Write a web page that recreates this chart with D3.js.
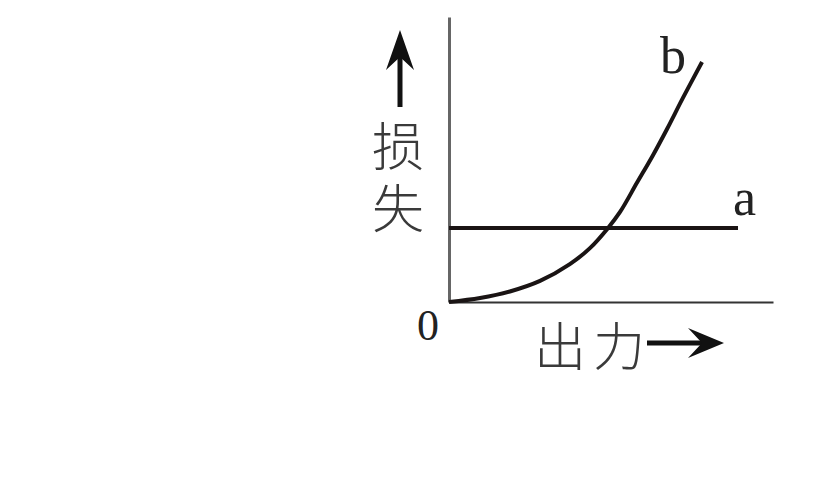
<!DOCTYPE html>
<html>
<head>
<meta charset="utf-8">
<script src="https://cdn.jsdelivr.net/npm/d3@7"></script>
<style>
  html, body { margin: 0; padding: 0; background: #fff; }
  svg { display: block; }
  .cjk { font-family: "Noto Sans CJK SC", sans-serif; font-weight: 300; fill: #3a3a3a; }
  .latin { font-family: "Liberation Serif", "DejaVu Serif", serif; fill: #222; }
</style>
</head>
<body>
<div id="chart"></div>
<script>
// curve b (losses that grow with output)
var bX = [0, 0.96, 1.88, 2.81, 3.73, 4.35, 4.91, 5.28, 5.80, 6.30, 6.73, 7.22, 7.81];
var bY = [0, 0.14, 0.37, 0.74, 1.33, 1.89, 2.60, 3.16, 4.18, 5.16, 6.07, 7.16, 8.42];
// line a (constant losses)
var aX = [0, 8.92];
var aY = [2.6, 2.6];
var seriesNames = ['a', 'b'];
var tickLabels = ['0'];
var yTitle = '损失';
var xTitle = '出力';

var width = 832,
    height = 495,
    margin = { left: 449, right: 59, top: 17, bottom: 193 }
;

var svg = d3.select('#chart')
    .append('svg')
    .attr('width', width)
    .attr('height', height)
;

var x = d3.scaleLinear().domain([0, 10]).range([margin.left, width - margin.right]);
var y = d3.scaleLinear().domain([0, 10]).range([height - margin.bottom, margin.top]);

// axes: bare lines, no ticks
var xAxis = svg.append('g')
    .attr('transform', 'translate(0,' + y(0) + ')')
    .call(d3.axisBottom(x).tickValues([]).tickSizeOuter(0));
xAxis.select('.domain').attr('stroke', '#333').attr('stroke-width', 2.2);

var yAxis = svg.append('g')
    .attr('transform', 'translate(' + x(0) + ',0)')
    .call(d3.axisLeft(y).tickValues([]).tickSizeOuter(0));
yAxis.select('.domain').attr('stroke', '#666').attr('stroke-width', 3);

var line = d3.line()
    .x(function(d) { return x(d[0]); })
    .y(function(d) { return y(d[1]); })
    .curve(d3.curveCatmullRom.alpha(0.5))
;

// line a
svg.append('path')
    .datum(d3.zip(aX, aY))
    .attr('d', line)
    .attr('fill', 'none')
    .attr('stroke', '#1a1414')
    .attr('stroke-width', 4);

// curve b
svg.append('path')
    .datum(d3.zip(bX, bY))
    .attr('d', line)
    .attr('fill', 'none')
    .attr('stroke', '#1a1414')
    .attr('stroke-width', 4);

// series labels
svg.append('text').attr('class', 'latin')
    .attr('x', x(aX[1]) - 5).attr('y', y(aY[1]) - 13)
    .attr('font-size', 52)
    .text(seriesNames[0]);
svg.append('text').attr('class', 'latin')
    .attr('x', x(bX[bX.length - 1]) - 42).attr('y', y(bY[bY.length - 1]) + 11)
    .attr('font-size', 52)
    .text(seriesNames[1]);

// origin label
svg.append('text').attr('class', 'latin')
    .attr('x', x(0) - 21).attr('y', y(0) + 38)
    .attr('text-anchor', 'middle')
    .attr('font-size', 44)
    .attr('fill', '#333')
    .text(tickLabels[0]);

// y title, vertical, with up arrow
svg.append('text')
    .attr('class', 'cjk')
    .attr('x', 398)
    .attr('y', 120)
    .attr('font-size', 52)
    .style('writing-mode', 'vertical-rl')
    .style('text-orientation', 'upright')
    .style('letter-spacing', '10px')
    .text(yTitle);

svg.append('line')
    .attr('x1', 400).attr('x2', 400)
    .attr('y1', 107).attr('y2', 45)
    .attr('stroke', '#111').attr('stroke-width', 5);
svg.append('path')
    .attr('d', 'M400,30 L386,70 L400,57 L414,70 Z')
    .attr('fill', '#111');

// x title with right arrow
svg.append('text')
    .attr('class', 'cjk')
    .attr('x', 534)
    .attr('y', 366)
    .attr('font-size', 52)
    .style('letter-spacing', '7px')
    .text(xTitle);

svg.append('line')
    .attr('x1', 647).attr('x2', 710)
    .attr('y1', 343).attr('y2', 343)
    .attr('stroke', '#111').attr('stroke-width', 5);
svg.append('path')
    .attr('d', 'M724,343 L688,328 L702,343 L688,358 Z')
    .attr('fill', '#111');
</script>
</body>
</html>
